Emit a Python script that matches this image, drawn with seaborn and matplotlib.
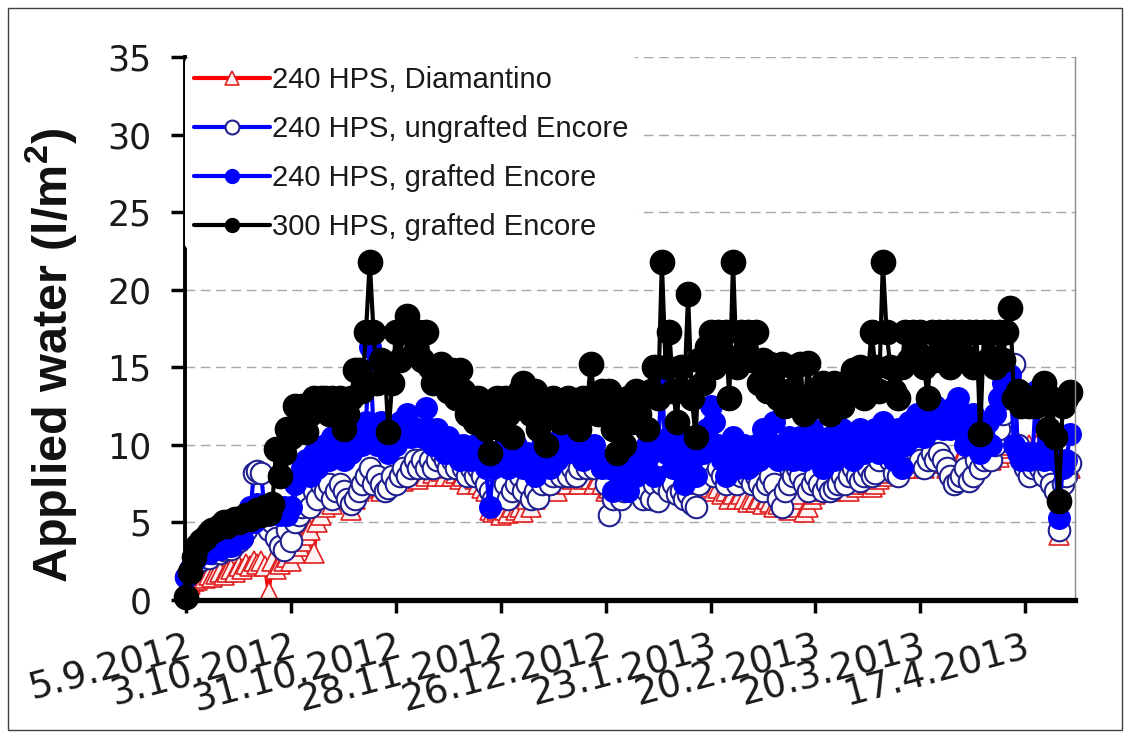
import numpy as np
import pandas as pd
import matplotlib
matplotlib.use("Agg")
import matplotlib.pyplot as plt
import seaborn as sns
from matplotlib.patches import Rectangle

start_date = "2012-09-05"

diamantino = [
    0.5, 1.0, 1.2, 1.3, 1.5, 1.4, 1.6, 1.5, 1.7, 1.8,
    1.6, 1.8, 2.0, 1.8, 2.2, 2.0, 2.3, 2.2, 2.5, 2.3,
    2.5, 2.2, 0.5, 2.5, 2.0, 2.3, 2.5, 2.8, 2.5, 3.0,
    3.5, 3.8, 4.2, 4.5, 3.0, 5.0, 5.5, 6.0, 6.5, 6.2,
    6.8, 7.0, 6.5, 7.0, 5.8, 6.5, 7.0, 7.5, 7.2, 7.5,
    7.3, 7.5, 7.0, 7.5, 7.8, 7.5, 7.8, 8.0, 7.7, 8.0,
    8.2, 8.0, 7.8, 8.2, 8.0, 8.5, 8.2, 8.0, 8.3, 8.0,
    8.5, 8.0, 8.2, 7.8, 8.0, 7.5, 8.0, 7.8, 7.5, 7.2,
    7.0, 5.8, 5.7, 5.8, 5.5, 5.8, 5.6, 6.0, 5.8, 6.0,
    5.7, 6.5, 6.0, 6.5, 7.0, 7.2, 7.5, 7.3, 7.5, 7.0,
    7.5, 7.8, 7.5, 7.8, 8.0, 7.5, 7.8, 8.0, 7.8, 7.5,
    7.8, 7.5, 7.0, 7.2, 6.8, 7.0, 7.5, 7.2, 7.5, 7.0,
    7.5, 7.2, 7.0, 7.5, 7.2, 7.0, 7.3, 7.5, 7.8, 7.5,
    7.2, 7.5, 7.0, 7.2, 7.0, 7.5, 7.2, 7.0, 7.5, 7.8,
    7.3, 7.0, 7.2, 6.8, 7.0, 6.5, 6.8, 6.5, 6.8, 6.5,
    6.3, 6.5, 6.3, 6.5, 6.2, 6.5, 6.3, 6.0, 6.2, 6.5,
    6.0, 5.8, 6.0, 6.5, 6.8, 5.7, 6.0, 6.5, 6.8, 7.0,
    7.2, 7.0, 7.3, 7.0, 7.2, 7.5, 7.3, 7.0, 7.5, 7.3,
    7.5, 7.8, 7.5, 7.3, 7.5, 7.8, 8.0, 8.5, 8.2, 8.5,
    8.3, 8.5, 8.8, 8.5, 8.8, 8.5, 8.8, 8.5, 8.8, 9.0,
    8.8, 9.0, 8.8, 8.5, 8.8, 8.5, 8.8, 9.0, 8.8, 9.0,
    8.8, 9.0, 8.8, 9.0, 9.2, 9.0, 9.5, 9.2, 9.5, 9.8,
    10.0, 10.2, 10.0, 9.5, 9.8, 10.0, 9.8, 10.0, 9.8, 9.5,
    9.8, 9.5, 9.0, 4.2, 8.0, 8.5, 8.5,
]

ungrafted_240 = [
    1.5, 1.8, 2.2, 2.5, 2.6, 2.8, 2.7, 3.0, 3.1, 3.0,
    3.2, 3.4, 3.3, 3.6, 3.8, 4.0, 4.5, 5.0, 8.2, 8.3,
    8.2, 5.5, 4.5, 5.0, 4.0, 3.5, 3.2, 4.5, 3.8, 5.0,
    5.5, 6.0, 6.5, 6.0, 7.0, 6.5, 7.5, 7.0, 7.5, 6.5,
    7.0, 7.5, 7.0, 6.5, 6.2, 6.5, 7.0, 7.5, 8.0, 8.5,
    7.5, 8.0, 7.5, 7.0, 7.2, 8.0, 7.5, 8.0, 8.5, 8.0,
    8.5, 9.0, 8.5, 9.0, 8.5, 9.0, 8.5, 9.0, 9.5, 9.0,
    8.5, 9.0, 8.5, 9.0, 8.5, 8.0, 8.5, 8.0, 8.5, 8.0,
    7.5, 7.0, 6.5, 6.5, 7.0, 7.5, 6.5, 7.0, 7.5, 8.0,
    7.0, 7.5, 6.5, 7.0, 6.6, 7.5, 8.0, 7.5, 8.0, 8.5,
    8.0, 8.5, 8.0, 8.5, 8.0, 8.5, 9.0, 8.5, 9.0, 8.5,
    9.0, 8.5, 7.5, 5.5, 6.5, 7.0, 6.5, 7.0, 7.5, 7.0,
    7.5, 7.0, 6.5, 7.0, 6.5, 7.5, 6.4, 7.5, 8.0, 7.0,
    7.5, 6.8, 7.0, 6.5, 6.8, 6.2, 6.0, 7.5, 8.5, 9.0,
    8.5, 8.0, 8.5, 8.0, 7.5, 8.0, 8.5, 7.5, 8.0, 8.5,
    8.0, 7.5, 8.0, 7.5, 7.0, 7.5, 8.0, 7.5, 6.5, 6.0,
    7.0, 7.5, 8.0, 8.5, 8.0, 7.5, 7.0, 7.5, 8.0, 7.5,
    7.0, 7.5, 7.0, 7.2, 7.5, 8.0, 7.5, 8.0, 8.5, 8.0,
    7.7, 8.0, 8.5, 8.0, 8.2, 9.0, 9.5, 10.0, 9.0, 8.2,
    8.0, 9.5, 9.0, 9.5, 10.0, 9.5, 9.0, 8.5, 9.0, 9.5,
    9.0, 9.5, 9.0, 8.5, 8.0, 7.5, 7.7, 8.0, 8.5, 7.7,
    8.0, 9.0, 8.5, 9.0, 9.5, 9.0, 10.0, 11.0, 12.0, 13.0,
    14.0, 15.2, 10.0, 9.0, 8.5, 8.0, 8.5, 9.0, 8.5, 8.0,
    8.5, 7.5, 7.0, 4.5, 7.5, 8.0, 8.8,
]

grafted_240 = [
    1.5, 2.0, 2.5, 2.8, 3.0, 3.2, 3.0, 3.4, 3.5, 3.3,
    3.6, 3.8, 3.5, 4.0, 4.2, 4.0, 5.5, 6.0, 5.0, 6.2,
    5.5, 6.0, 5.5, 5.8, 6.0, 5.5, 6.0, 5.5, 6.0, 7.5,
    8.0, 8.5, 9.0, 8.0, 9.5, 8.5, 9.5, 10.0, 9.0, 10.5,
    9.5, 10.0, 9.0, 10.5, 9.5, 10.0, 11.0, 10.0, 11.5, 16.3,
    11.0, 10.0, 11.5, 10.5, 9.5, 11.0, 10.0, 11.5, 10.5, 12.0,
    10.5, 11.0, 11.0, 10.5, 12.4, 11.0, 10.0, 11.0, 10.0, 9.5,
    10.5, 9.5, 10.0, 9.0, 10.0, 9.5, 9.0, 10.0, 9.5, 9.0,
    8.5, 6.0, 8.5, 9.0, 9.0, 10.0, 8.5, 9.5, 10.0, 9.0,
    8.5, 9.5, 9.0, 8.0, 9.5, 10.0, 9.0, 8.5, 9.5, 9.0,
    10.5, 9.5, 10.0, 10.5, 9.5, 10.5, 9.0, 10.0, 9.5, 10.0,
    9.0, 8.5, 9.0, 8.5, 7.0, 9.5, 7.5, 8.5, 7.0, 8.0,
    8.0, 9.0, 8.5, 10.0, 9.5, 8.0, 10.0, 14.0, 9.5, 10.5,
    8.5, 9.5, 10.0, 7.5, 10.5, 9.0, 8.0, 10.0, 9.5, 11.0,
    12.5, 11.5, 10.0, 9.0, 8.0, 9.5, 10.5, 8.5, 9.5, 10.0,
    8.5, 9.5, 10.0, 9.0, 11.0, 9.5, 10.0, 11.5, 9.0, 10.0,
    9.5, 10.5, 9.0, 10.0, 10.5, 9.0, 10.0, 11.0, 9.5, 10.0,
    8.5, 9.5, 10.5, 9.0, 10.0, 11.0, 9.5, 10.0, 9.0, 10.5,
    11.0, 9.5, 10.5, 10.0, 11.0, 9.5, 11.5, 10.0, 10.5, 9.0,
    11.0, 8.5, 10.0, 11.5, 10.5, 12.0, 11.5, 10.5, 12.0, 11.0,
    12.5, 11.5, 11.0, 12.0, 11.0, 12.5, 13.0, 11.5, 10.0, 11.0,
    12.0, 10.5, 9.5, 10.5, 11.5, 10.0, 12.0, 13.0, 14.0, 13.5,
    14.5, 10.0, 9.5, 9.0, 9.5, 9.0, 9.5, 13.5, 9.5, 9.0,
    9.5, 10.0, 9.0, 5.3, 8.5, 9.0, 10.7,
]

grafted_300 = [
    0.2, 1.8, 2.8, 3.5, 3.8, 4.0, 4.3, 4.5, 4.6, 4.8,
    5.0, 4.8, 5.1, 5.2, 5.0, 5.3, 5.5, 5.2, 5.4, 5.8,
    5.5, 6.0, 5.6, 6.2, 9.7, 8.0, 9.5, 11.0, 10.5, 12.5,
    11.0, 12.5, 10.8, 12.0, 13.0, 12.5, 13.0, 13.0, 12.0, 13.0,
    12.5, 13.0, 11.0, 12.0, 13.0, 14.8, 14.8, 13.5, 17.3, 21.8,
    17.3, 14.0, 15.5, 15.0, 10.8, 14.0, 17.3, 15.5, 17.3, 18.3,
    17.3, 16.0, 17.3, 15.5, 17.3, 15.0, 14.0, 15.0, 15.2, 14.8,
    13.5, 14.8, 13.0, 14.8, 13.5, 12.0, 13.0, 11.5, 13.0, 12.5,
    11.0, 9.5, 12.5, 13.0, 11.0, 13.0, 12.0, 10.5, 12.5, 13.5,
    14.0, 13.0, 12.0, 13.5, 11.0, 12.5, 10.0, 12.0, 13.0, 12.5,
    11.5, 12.5, 13.0, 12.0, 12.5, 11.0, 13.0, 12.5, 15.2, 13.0,
    12.0, 13.5, 12.0, 13.5, 11.0, 9.5, 12.5, 10.0, 13.0, 11.5,
    13.5, 12.0, 13.0, 11.0, 13.5, 15.0, 13.0, 21.8, 15.0, 17.3,
    13.5, 11.5, 15.0, 13.5, 19.7, 13.0, 10.5, 15.5, 14.0, 16.3,
    17.3, 15.0, 17.3, 16.0, 17.3, 13.0, 21.8, 15.0, 17.3, 16.0,
    17.3, 15.5, 17.3, 14.0, 15.5, 13.5, 15.2, 15.0, 13.0, 15.2,
    12.5, 13.5, 15.0, 13.0, 15.2, 12.0, 15.3, 13.0, 12.5, 13.5,
    14.0, 13.0, 12.0, 14.0, 13.0, 12.5, 14.0, 13.5, 14.8, 13.5,
    15.0, 13.0, 14.5, 17.3, 15.0, 13.5, 21.8, 17.3, 15.0, 13.5,
    13.0, 15.0, 17.3, 15.5, 17.3, 16.0, 17.3, 15.0, 13.0, 17.3,
    15.5, 17.3, 16.0, 17.3, 15.0, 17.3, 16.0, 17.3, 15.5, 17.3,
    15.0, 17.3, 10.7, 17.3, 15.5, 17.3, 15.0, 17.3, 15.5, 17.3,
    18.8, 13.0, 13.5, 12.5, 13.0, 12.5, 13.0, 12.5, 13.0, 14.0,
    11.0, 13.0, 10.5, 6.4, 12.5, 13.0, 13.4,
]

series_labels = [
    "240 HPS, Diamantino",
    "240 HPS, ungrafted Encore",
    "240 HPS, grafted Encore",
    "300 HPS, grafted Encore",
]

tick_dates = ["2012-09-05", "2012-10-03", "2012-10-31", "2012-11-28",
              "2012-12-26", "2013-01-23", "2013-02-20", "2013-03-20",
              "2013-04-17"]
tick_labels = ["5.9.2012", "3.10.2012", "31.10.2012", "28.11.2012",
               "26.12.2012", "23.1.2013", "20.2.2013", "20.3.2013",
               "17.4.2013"]
y_ticks = [0, 5, 10, 15, 20, 25, 30, 35]

sns.set_style("white")
plt.rcParams["font.family"] = ["Liberation Sans", "DejaVu Sans"]
plt.rcParams["mathtext.fontset"] = "custom"
plt.rcParams["mathtext.rm"] = "Liberation Sans"
plt.rcParams["mathtext.bf"] = "Liberation Sans:bold"

fig = plt.figure(figsize=(11.3, 7.38), dpi=100)
ax = fig.add_axes([0.1637, 0.187, 0.7876, 0.7358])

styles = [
    dict(color="#FF0000", marker="^", markersize=15, markerfacecolor="#FFF2F2",
         markeredgecolor="#E02020", markeredgewidth=1.2, linewidth=3.0),
    dict(color="#0000FF", marker="o", markersize=15.5, markerfacecolor="white",
         markeredgecolor="#202090", markeredgewidth=1.5, linewidth=3.0),
    dict(color="#0000FF", marker="o", markersize=15.5, markerfacecolor="#0000FF",
         markeredgecolor="#0000FF", markeredgewidth=1.0, linewidth=3.0),
    dict(color="#000000", marker="o", markersize=17.5, markerfacecolor="#000000",
         markeredgecolor="#000000", markeredgewidth=1.0, linewidth=3.0),
]

all_series = [diamantino, ungrafted_240, grafted_240, grafted_300]
for vals, lab, st in zip(all_series, series_labels, styles):
    df = pd.DataFrame({
        "date": pd.date_range(start_date, periods=len(vals), freq="D"),
        "water": vals,
    })
    sns.lineplot(data=df, x="date", y="water", ax=ax, label=lab,
                 clip_on=False, **st)

t0 = pd.Timestamp(start_date)
ax.set_xlim(t0 - pd.Timedelta(hours=8), t0 + pd.Timedelta(days=237.3))
ax.set_ylim(0, 35)
ax.set_yticks(y_ticks)
ax.set_xticks(pd.to_datetime(tick_dates))
ax.set_xticklabels(tick_labels, rotation=15, ha="right", va="top",
                   rotation_mode="anchor")
ax.set_xlabel("")

ax.yaxis.grid(True, linestyle=(0, (7, 4)), color="#A8A8A8", linewidth=1.0)
ax.xaxis.grid(False)
ax.set_axisbelow(True)

ax.spines["top"].set_visible(False)
ax.spines["right"].set_color("#8C8C8C")
ax.spines["right"].set_linewidth(1.0)
ax.spines["left"].set_color("black")
ax.spines["left"].set_linewidth(2.8)
ax.spines["bottom"].set_color("black")
ax.spines["bottom"].set_linewidth(3.8)

ax.tick_params(axis="y", direction="out", length=10, width=2.5, labelsize=25,
               pad=14, colors="black", left=True)
ax.tick_params(axis="x", direction="out", length=9, width=2.5, labelsize=27,
               pad=12, colors="black", bottom=True)
for lbl in ax.get_yticklabels() + ax.get_xticklabels():
    lbl.set_color("#1A1A1A")
    lbl.set_family(["DejaVu Sans"])

ax.set_ylabel(r"Applied water (l/m$^\mathbf{2}$)", fontsize=35,
              fontweight="bold", color="#111111")
ax.yaxis.set_label_coords(-0.118, 0.45)

leg = ax.legend(loc="upper left", bbox_to_anchor=(0.0, 1.0), borderaxespad=0.0,
                frameon=True, framealpha=1.0, facecolor="white",
                edgecolor="none", fontsize=21, handlelength=2.6,
                handletextpad=0.1, labelspacing=0.72, borderpad=0.3)
leg.get_frame().set_linewidth(0)
for h in leg.legend_handles:
    h.set_markersize(10)
for txt in leg.get_texts():
    txt.set_color("#1A1A1A")

fig.patches.append(Rectangle((8 / 1130, 8 / 738), (1122 - 8) / 1130,
                             (730 - 8) / 738, transform=fig.transFigure,
                             fill=False, edgecolor="#404040", linewidth=1.0))

fig.savefig("out.png", dpi=100)
